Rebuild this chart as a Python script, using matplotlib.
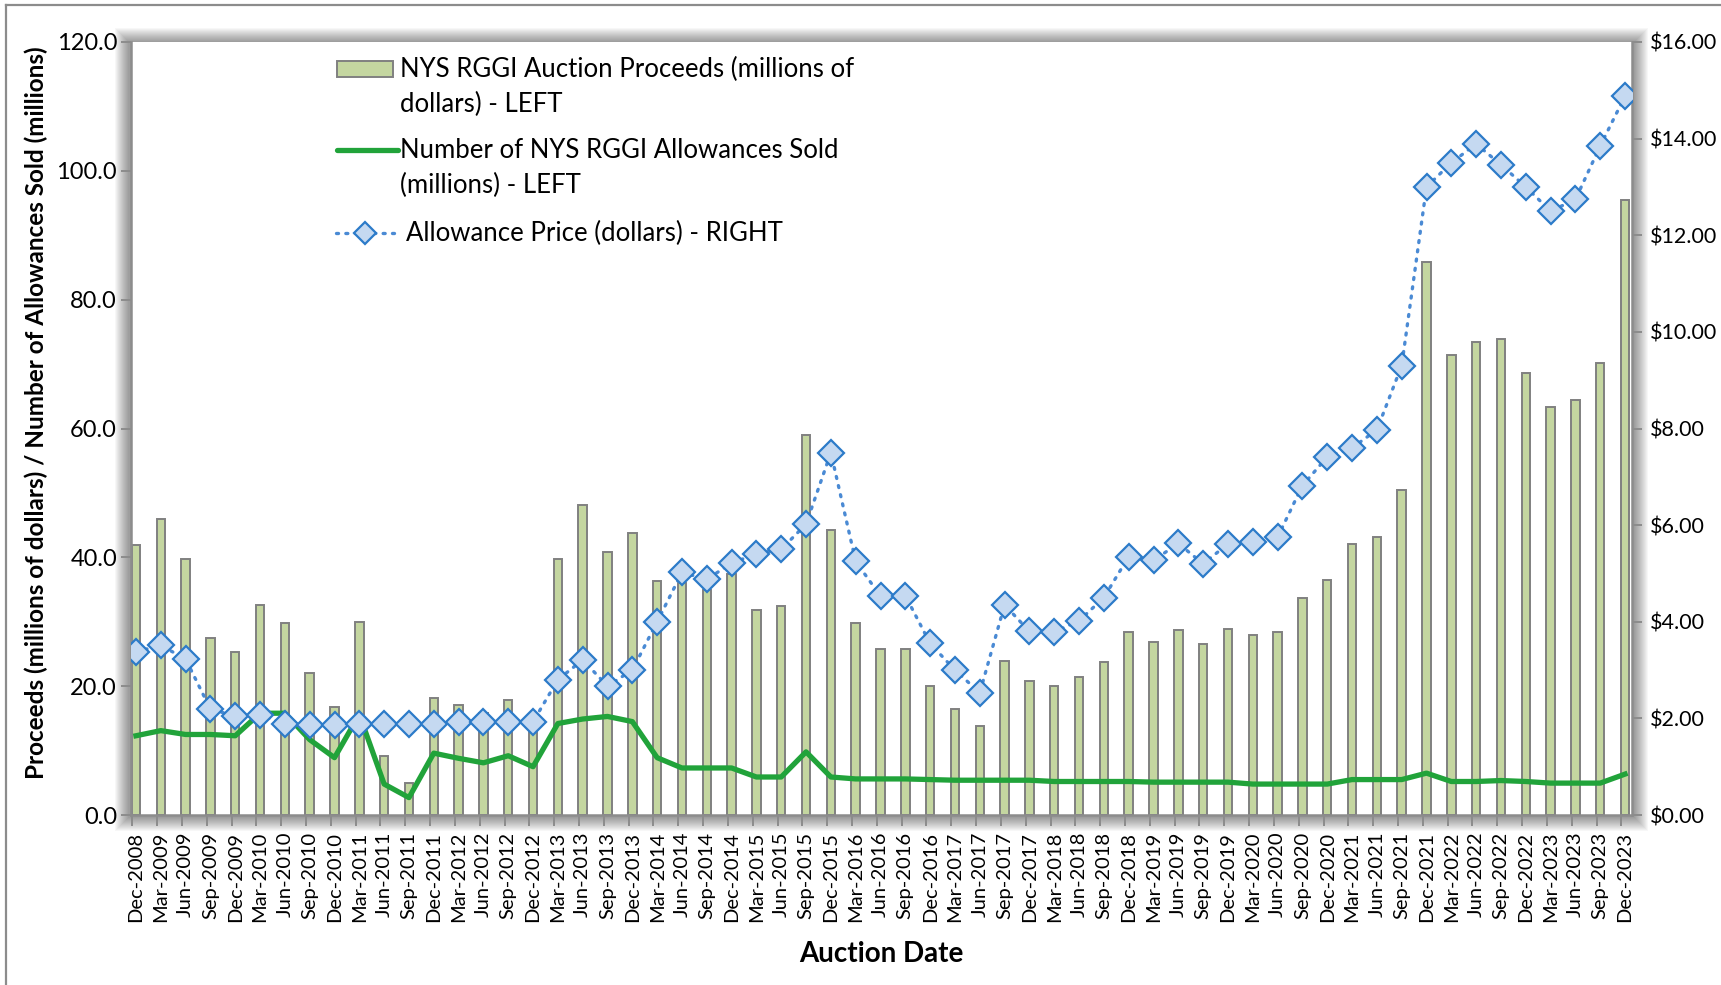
import numpy as np
import matplotlib.pyplot as plt
from matplotlib.patches import Rectangle
from matplotlib.lines import Line2D

plt.rcParams['font.family'] = ['Lato', 'DejaVu Sans']

# --- data ---
years = range(2009, 2024)
dates = ["Dec-2008"] + [f"{m}-{y}" for y in years for m in ["Mar", "Jun", "Sep", "Dec"]]

proceeds = [41.9, 45.9, 39.8, 27.4, 25.3, 32.6, 29.8, 22.0, 16.8, 30.0,
            9.1, 5.0, 18.1, 17.1, 15.8, 17.9, 14.5, 39.8, 48.1, 40.9,
            43.7, 36.4, 36.0, 34.9, 37.4, 31.8, 32.4, 59.0, 44.2, 29.8,
            25.8, 25.8, 20.0, 16.4, 13.8, 23.9, 20.8, 20.0, 21.4, 23.8,
            28.4, 26.9, 28.7, 26.6, 28.8, 27.9, 28.4, 33.7, 36.5, 42.0,
            43.2, 50.4, 85.9, 71.4, 73.5, 73.9, 68.6, 63.4, 64.5, 70.2,
            95.5]

allowances = [12.3, 13.1, 12.5, 12.5, 12.3, 15.8, 15.8, 11.7, 8.9, 15.6,
              4.8, 2.7, 9.6, 8.8, 8.1, 9.2, 7.5, 14.2, 14.9, 15.3,
              14.5, 8.9, 7.3, 7.3, 7.3, 5.9, 5.9, 9.8, 5.9, 5.6,
              5.6, 5.6, 5.5, 5.4, 5.4, 5.4, 5.4, 5.2, 5.2, 5.2,
              5.2, 5.1, 5.1, 5.1, 5.1, 4.8, 4.8, 4.8, 4.8, 5.5,
              5.5, 5.5, 6.5, 5.2, 5.2, 5.35, 5.2, 4.95, 4.95, 4.95,
              6.35]

price = [3.38, 3.51, 3.23, 2.19, 2.05, 2.07, 1.88, 1.86, 1.86, 1.89,
         1.89, 1.89, 1.89, 1.93, 1.93, 1.93, 1.93, 2.80, 3.21, 2.67,
         3.00, 4.00, 5.02, 4.88, 5.21, 5.41, 5.50, 6.02, 7.50, 5.25,
         4.53, 4.54, 3.55, 3.00, 2.53, 4.35, 3.80, 3.79, 4.02, 4.50,
         5.35, 5.27, 5.62, 5.20, 5.61, 5.65, 5.75, 6.82, 7.41, 7.60,
         7.97, 9.30, 13.00, 13.50, 13.89, 13.46, 13.00, 12.50, 12.74, 13.85,
         14.88]

bar_fill = "#C4D6A0"
bar_edge = "#808080"
green = "#21A33A"
dot_blue = "#4A8AD4"
mk_fill = "#C5D9F1"
mk_edge = "#2C7BC9"
gray = "#8C8C8C"

W, H = 1721, 985
fig = plt.figure(figsize=(W / 100, H / 100), dpi=100)

def fx(px):
    return px / W

def fy(py):
    return 1 - py / H

L, R, T, B = 131, 1632, 42, 815
ax = fig.add_axes([fx(L), fy(B), fx(R - L), fy(T) - fy(B)])

# soft shadow around plot area
for k in range(1, 15):
    fig.patches.append(Rectangle((fx(L - k - 2), fy(B + k + 2)), fx(R - L + 2 * k + 4),
                                 fy(T - k) - fy(B + k + 2), transform=fig.transFigure,
                                 facecolor="#000000", alpha=0.03, edgecolor="none", zorder=-5))

# outer frame (top and left edges visible)
fig.add_artist(Line2D([fx(6), 1], [fy(5), fy(5)], color=gray, lw=1.6))
fig.add_artist(Line2D([fx(6), fx(6)], [fy(5), 0], color=gray, lw=1.6))

x = np.arange(len(dates))
ax.bar(x, proceeds, width=0.34, color=bar_fill, edgecolor=bar_edge, linewidth=1.4, zorder=2)
ax.plot(x, allowances, color=green, lw=3.8, solid_joinstyle="round", zorder=3)

ax.set_xlim(-0.2, 60.28)
ax.set_ylim(0, 120)
ax.set_yticks(np.arange(0, 121, 20))
ax.set_yticklabels([f"{v:.1f}" for v in np.arange(0, 121, 20)], fontsize=17)
ax.set_xticks(x)
ax.set_xticklabels(dates, rotation=90, fontsize=14.5)
ax.set_xticks(x - 0.15, minor=True)
ax.tick_params(axis="x", which="major", length=0, pad=12)
ax.tick_params(axis="x", which="minor", length=8, width=1.4, color=gray, direction="out")
ax.tick_params(axis="y", length=7, width=1.4, color=gray, direction="out", pad=3)

for s in ["top", "right"]:
    ax.spines[s].set_visible(False)
for s in ["left", "bottom"]:
    ax.spines[s].set_color(gray)
    ax.spines[s].set_linewidth(1.8)

ax.set_ylabel("Proceeds (millions of dollars) / Number of Allowances Sold (millions)",
              fontsize=17.5, fontweight="bold")
ax.yaxis.set_label_coords(-0.055, 0.52)
ax.set_xlabel("Auction Date", fontsize=20, fontweight="bold")
ax.xaxis.set_label_coords(0.5, -0.163)

ax2 = ax.twinx()
ax2.plot(x, price, color=dot_blue, lw=2.4, linestyle=(0, (0.6, 2.2)), dash_capstyle="round",
         marker="D", markersize=13, markerfacecolor=mk_fill, markeredgecolor=mk_edge,
         markeredgewidth=1.6, zorder=4)
ax2.set_ylim(0, 16)
ax2.set_yticks(np.arange(0, 17, 2))
ax2.set_yticklabels([f"${v:.2f}" for v in np.arange(0, 17, 2)], fontsize=15.5)
ax2.tick_params(axis="y", length=7, width=1.4, color=gray, direction="out", pad=6)
for s in ["top", "left", "bottom"]:
    ax2.spines[s].set_visible(False)
ax2.spines["right"].set_color(gray)
ax2.spines["right"].set_linewidth(1.8)

# legend drawn by hand to keep handles on the first text line
lfs = 18.5
fig.patches.append(Rectangle((fx(337), fy(77)), fx(56), fy(61) - fy(77), transform=fig.transFigure,
                             facecolor=bar_fill, edgecolor=bar_edge, lw=1.4))
fig.text(fx(400), fy(69), "NYS RGGI Auction Proceeds (millions of", fontsize=lfs, va="center")
fig.text(fx(400), fy(104), "dollars) - LEFT", fontsize=lfs, va="center")
fig.add_artist(Line2D([fx(337), fx(398)], [fy(150), fy(150)], color=green, lw=3.8,
                      solid_capstyle="round"))
fig.text(fx(400), fy(150), "Number of NYS RGGI Allowances Sold", fontsize=lfs, va="center")
fig.text(fx(400), fy(185), "(millions) - LEFT", fontsize=lfs, va="center")
fig.add_artist(Line2D([fx(336), fx(394)], [fy(233), fy(233)], color=dot_blue, lw=2.4,
                      linestyle=(0, (0.6, 2.2)), dash_capstyle="round"))
fig.add_artist(Line2D([fx(365)], [fy(233)], marker="D", markersize=11, markerfacecolor=mk_fill,
                      markeredgecolor=mk_edge, markeredgewidth=1.6, lw=0))
fig.text(fx(406), fy(233), "Allowance Price (dollars) - RIGHT", fontsize=lfs, va="center")

fig.savefig("out.png", dpi=100)
